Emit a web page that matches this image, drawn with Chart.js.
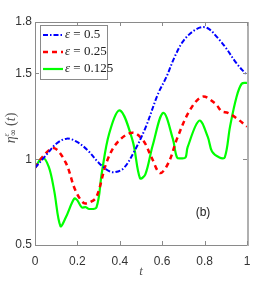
<!DOCTYPE html>
<html>
<head>
<meta charset="utf-8">
<script src="https://cdn.jsdelivr.net/npm/chart.js@4"></script>
<style>
  html, body { margin: 0; padding: 0; background: #fff; }
  #wrap { width: 273px; height: 284px; }
</style>
</head>
<body>
<div id="wrap"><canvas id="grafico" width="273" height="284"></canvas></div>
<script>
// dados
const labels = ['ε = 0.5', 'ε = 0.25', 'ε = 0.125'];

const tAzul = [0, 0.05, 0.1, 0.15, 0.2, 0.25, 0.3, 0.35, 0.38, 0.42, 0.47, 0.52, 0.58, 0.62, 0.66, 0.7, 0.75, 0.79, 0.82, 0.86, 0.9, 0.95, 1];
const yAzul = [0.95, 1.02, 1.09, 1.12, 1.10, 1.05, 0.98, 0.93, 0.925, 0.95, 1.05, 1.18, 1.38, 1.48, 1.60, 1.69, 1.75, 1.77, 1.76, 1.71, 1.65, 1.56, 1.49];

const tVermelho = [0, 0.04, 0.09, 0.145, 0.19, 0.23, 0.26, 0.29, 0.34, 0.39, 0.46, 0.51, 0.55, 0.59, 0.63, 0.67, 0.73, 0.79, 0.85, 0.88, 0.91, 0.95, 1];
const yVermelho = [0.95, 1.02, 1.065, 0.98, 0.82, 0.745, 0.75, 0.78, 0.99, 1.10, 1.155, 1.11, 1.01, 0.92, 0.98, 1.12, 1.285, 1.365, 1.325, 1.28, 1.27, 1.24, 1.19];

const tVerde = [0, 0.035, 0.065, 0.09, 0.12, 0.145, 0.185, 0.2, 0.22, 0.24, 0.255, 0.29, 0.315, 0.35, 0.4, 0.46, 0.495, 0.52, 0.555, 0.605, 0.65, 0.67, 0.69, 0.71, 0.72, 0.775, 0.815, 0.835, 0.87, 0.895, 0.92, 0.95, 0.975, 1];
const yVerde = [0.95, 1.01, 0.955, 0.82, 0.61, 0.66, 0.77, 0.76, 0.72, 0.72, 0.71, 0.72, 0.92, 1.15, 1.285, 1.11, 0.89, 0.91, 1.08, 1.27, 1.12, 1.01, 1.005, 1.01, 1.07, 1.225, 1.13, 1.045, 1.01, 1.01, 1.19, 1.36, 1.44, 1.445];

const xTicks = [0, 0.2, 0.4, 0.6, 0.8, 1];
const yTicks = [0.5, 1, 1.5, 1.8];

function pontos(ts, ys) {
    return ts.map((t, i) => ({ x: t, y: ys[i] }));
}

// caixa, marcas internas, legenda e textos
const extras = {
    id: 'extras',
    afterDraw(chart) {
        const ctx = chart.ctx;
        const a = chart.chartArea;
        const sx = chart.scales.x, sy = chart.scales.y;
        ctx.save();

        // caixa
        ctx.strokeStyle = '#8a8a8a';
        ctx.lineWidth = 1;
        ctx.beginPath();
        ctx.moveTo(a.left + 0.5, a.top + 0.5);
        ctx.lineTo(a.right, a.top + 0.5);
        ctx.moveTo(a.left + 0.5, a.top);
        ctx.lineTo(a.left + 0.5, a.bottom + 0.5);
        ctx.lineTo(a.right, a.bottom + 0.5);
        ctx.stroke();
        ctx.strokeStyle = '#b0b0b0';
        ctx.lineWidth = 2;
        ctx.beginPath();
        ctx.moveTo(a.right + 1, a.top);
        ctx.lineTo(a.right + 1, a.bottom + 1);
        ctx.stroke();

        // marcas para dentro
        ctx.strokeStyle = '#8a8a8a';
        ctx.lineWidth = 1;
        ctx.beginPath();
        xTicks.forEach(v => {
            const px = Math.round(sx.getPixelForValue(v)) + 0.5;
            ctx.moveTo(px, a.bottom); ctx.lineTo(px, a.bottom - 4);
            ctx.moveTo(px, a.top); ctx.lineTo(px, a.top + 4);
        });
        yTicks.forEach(v => {
            const py = Math.round(sy.getPixelForValue(v)) + 0.5;
            ctx.moveTo(a.left, py); ctx.lineTo(a.left + 4, py);
            ctx.moveTo(a.right, py); ctx.lineTo(a.right - 4, py);
        });
        ctx.stroke();

        // legenda
        const lx = 40, ly = 25, lw = 67, lh = 54;
        ctx.fillStyle = '#fff';
        ctx.fillRect(lx, ly, lw, lh);
        ctx.strokeStyle = '#8a8a8a';
        ctx.strokeRect(lx + 0.5, ly + 0.5, lw, lh);
        chart.data.datasets.forEach((ds, i) => {
            const y = ly + 10 + i * 17;
            ctx.strokeStyle = ds.borderColor;
            ctx.lineWidth = ds.borderWidth;
            ctx.setLineDash(ds.borderDash || []);
            ctx.beginPath();
            ctx.moveTo(lx + 3, y);
            ctx.lineTo(lx + 23, y);
            ctx.stroke();
            ctx.setLineDash([]);
            ctx.fillStyle = '#222';
            ctx.textBaseline = 'middle';
            ctx.textAlign = 'left';
            ctx.font = 'italic 13px "Liberation Serif"';
            ctx.fillText('ε', lx + 25, y);
            const w = ctx.measureText('ε').width;
            ctx.font = '13px "Liberation Serif"';
            ctx.fillText(ds.label.replace('ε', ''), lx + 25 + w, y);
        });

        // (b)
        ctx.fillStyle = '#222';
        ctx.font = '12px "Liberation Sans"';
        ctx.textAlign = 'center';
        ctx.textBaseline = 'middle';
        ctx.fillText('(b)', 203, 213);

        // titulo do eixo x
        ctx.fillStyle = '#555';
        ctx.font = 'italic 13px "Liberation Serif"';
        ctx.fillText('t', 141, 272);

        // titulo do eixo y: η^ε_∞(t)
        ctx.translate(11, 128);
        ctx.rotate(-Math.PI / 2);
        ctx.textAlign = 'left';
        const partes = [
            ['italic 14px "Liberation Serif"', 'η', 0],
            ['italic 8px "Liberation Serif"', 'ε', -4],
            ['9px "DejaVu Sans"', '∞', 3],
            ['14px "Liberation Serif"', '(', 0],
            ['italic 14px "Liberation Serif"', 't', 0],
            ['14px "Liberation Serif"', ')', 0]
        ];
        let total = 0;
        partes.forEach((p, i) => {
            ctx.font = p[0];
            if (i !== 1) total += ctx.measureText(p[1]).width;
        });
        total += 3;
        let x = -total / 2;
        partes.forEach((p, i) => {
            ctx.font = p[0];
            ctx.fillText(p[1], x, p[2]);
            if (i === 1) return; // sobrescrito fica em cima do subscrito
            x += ctx.measureText(p[1]).width + (i === 2 ? 3 : 0);
        });

        ctx.restore();
    }
};

const ctx = document.getElementById('grafico').getContext('2d');
window.grafico = new Chart(ctx, {
    type: 'line',
    data: {
        datasets: [
            { label: labels[0], data: pontos(tAzul, yAzul), borderColor: '#0000ff', borderWidth: 2, borderDash: [5, 2, 1.5, 2] },
            { label: labels[1], data: pontos(tVermelho, yVermelho), borderColor: '#ff0000', borderWidth: 2.5, borderDash: [5, 4] },
            { label: labels[2], data: pontos(tVerde, yVerde), borderColor: '#00ff00', borderWidth: 2.2 }
        ]
    },
    options: {
        responsive: false,
        animation: false,
        layout: { padding: { left: 0, top: 22, right: 26, bottom: 0 } },
        elements: { point: { radius: 0 }, line: { tension: 0.35, fill: false } },
        plugins: { legend: { display: false }, tooltip: { enabled: false } },
        scales: {
            x: { // horizontal
                type: 'linear', min: 0, max: 1,
                grid: { display: false, drawTicks: false },
                border: { display: false },
                afterBuildTicks: s => { s.ticks = xTicks.map(v => ({ value: v })); },
                afterFit: s => { s.height = 39; },
                ticks: { padding: 9, color: '#333', font: { family: 'Liberation Sans', size: 12 }, callback: v => String(v) }
            },
            y: { // vertical
                type: 'linear', min: 0.5, max: 1.8,
                grid: { display: false, drawTicks: false },
                border: { display: false },
                afterBuildTicks: s => { s.ticks = yTicks.map(v => ({ value: v })); },
                afterFit: s => { s.width = 35; },
                ticks: { padding: 3, color: '#333', font: { family: 'Liberation Sans', size: 12 }, callback: v => String(v) }
            }
        }
    },
    plugins: [extras]
});
</script>
</body>
</html>
